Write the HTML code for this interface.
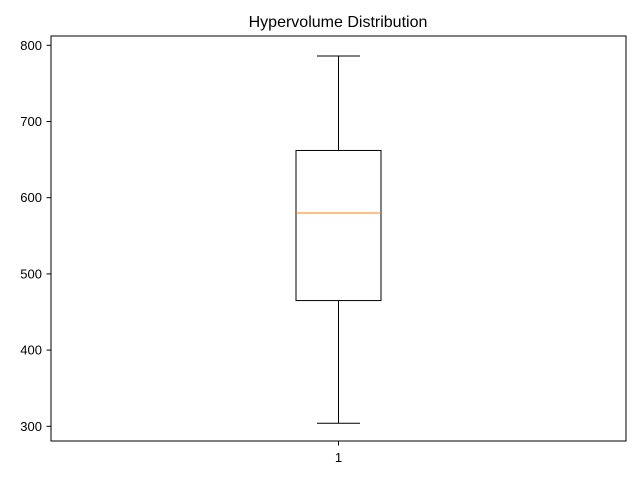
<!DOCTYPE html>
<html><head><meta charset="utf-8"><style>
body{margin:0;background:#fff}
svg{display:block;font-family:"Liberation Sans","DejaVu Sans",sans-serif}
</style></head><body>
<svg id="chart" width="640" height="480">
<rect width="640" height="480" fill="#fff"/>
<text x="338" y="27" font-size="16" text-anchor="middle">Hypervolume Distribution</text>
<g id="plot"></g>
<rect x="51" y="36" width="575" height="405" fill="none" stroke="#000" stroke-width="1"/>
</svg>
<script>
const categories=["1"];
const whiskerLow=[304];
const q1=[465];
const median=[580];
const q3=[662];
const whiskerHigh=[786];
const yTicks=[300,400,500,600,700,800];

const NS="http://www.w3.org/2000/svg";
const g=document.getElementById('plot');
function y(v){return 45.3+(800-v)*0.762;}
function x(i){return 338.5+i*100;}
function el(tag,attrs){const e=document.createElementNS(NS,tag);for(const k in attrs)e.setAttribute(k,attrs[k]);g.appendChild(e);return e;}
yTicks.forEach(t=>{
  const l=el('line',{x1:46.5,x2:51,y1:y(t),y2:y(t),stroke:'#000'});
  
  
  const tx=el('text',{x:42,y:y(t)+4.5,'font-size':13,'text-anchor':'end'});
  tx.textContent=t;
  
  
});
categories.forEach((c,i)=>{
  const cx=x(i);
  const t=el('line',{x1:cx,x2:cx,y1:441,y2:445.5,stroke:'#000'});
  
  
  const tl=el('text',{x:cx,y:462,'font-size':13,'text-anchor':'middle'});
  tl.textContent=c;
  
  
  const w1=el('line',{x1:cx,x2:cx,y1:y(whiskerLow[i]),y2:y(q1[i]),stroke:'#000'});
  
  
  const w2=el('line',{x1:cx,x2:cx,y1:y(q3[i]),y2:y(whiskerHigh[i]),stroke:'#000'});
  
  
  const c1=el('line',{x1:cx-21.5,x2:cx+21.5,y1:y(whiskerLow[i]),y2:y(whiskerLow[i]),stroke:'#000'});
  
  
  const c2=el('line',{x1:cx-21.5,x2:cx+21.5,y1:y(whiskerHigh[i]),y2:y(whiskerHigh[i]),stroke:'#000'});
  
  
  const b=el('rect',{x:cx-42.5,y:y(q3[i]),width:85,height:y(q1[i])-y(q3[i]),fill:'none',stroke:'#000'});
  
  
  const m=el('line',{x1:cx-42.5,x2:cx+42.5,y1:y(median[i]),y2:y(median[i]),stroke:'#ff7f0e'});
  
  
});
</script>
</body></html>
